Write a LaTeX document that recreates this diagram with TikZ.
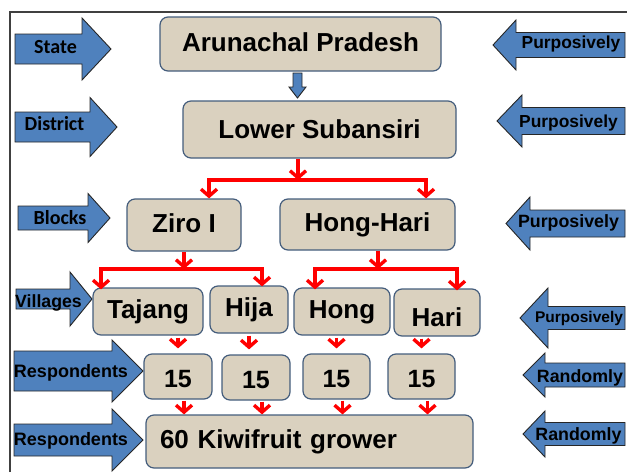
\documentclass[tikz,border=0pt]{standalone}
\usepackage{fontspec}
\setmainfont{Liberation Sans}
\newfontfamily\calibfont{Carlito}
\usepackage{tikz}
\usetikzlibrary{arrows.meta}
\usepackage{xcolor}
\definecolor{boxfill}{HTML}{DAD1BF}
\definecolor{boxline}{HTML}{445D7C}
\definecolor{arrowblue}{HTML}{4F81BD}
\definecolor{framegray}{HTML}{404040}
\newcommand{\blockarrow}[6]{\filldraw[blockarr] (#1,#4-#5) -- (#2,#4-#5) -- (#2,#4-#6) -- (#3,#4) -- (#2,#4+#6) -- (#2,#4+#5) -- (#1,#4+#5) -- cycle;}
\newcommand{\fsz}[1]{\fontsize{#1}{#1}\selectfont\bfseries}
\tikzset{
  stagebox/.style={draw=boxline, fill=boxfill, rounded corners=8pt, line width=1.2pt,
    font=\fsz{26}, text height=18pt, text depth=4pt, inner sep=0pt},
  redarr/.style={draw=red, line width=3.4pt, -{Straight Barb[length=7pt,width=16pt]}},
  redfork/.style={redarr, {Straight Barb[length=7pt,width=16pt]}-{Straight Barb[length=7pt,width=16pt]}},
  shortarr/.style={redarr, shorten <=2pt, shorten >=5pt},
  blockarr/.style={fill=arrowblue, draw=black!85, line width=0.9pt},
  steplabel/.style={font=\fsz{18}, anchor=base, inner sep=0pt},
  caliblabel/.style={steplabel, font=\calibfont\fsz{20}}
}

\begin{document}
\begin{tikzpicture}[x=1pt,y=-1pt]
\useasboundingbox (0,0) rectangle (627,472);
\draw[framegray, line width=1.6pt] (10,472) -- (10,12) -- (627,12);

\blockarrow{15}{82}{111}{49}{15}{31}
\blockarrow{15}{90}{117}{127}{15}{29.5}
\blockarrow{18}{88}{110}{218}{12}{24.5}
\blockarrow{16}{70}{92}{299}{10}{27}
\blockarrow{14}{112}{143}{371}{20}{31}
\blockarrow{14}{112}{143}{440}{16}{31}
\blockarrow{625}{516}{493}{45}{12.5}{25}
\blockarrow{625}{522}{497}{121}{13.5}{26}
\blockarrow{625}{530}{506}{223.5}{13.5}{26.5}
\blockarrow{625}{548}{520}{318}{11.5}{30}
\blockarrow{625}{545}{523}{375}{12}{22}
\blockarrow{625}{545}{523}{434}{11.5}{23}
\filldraw[blockarr] (293,73) -- (302,73) -- (302,87) -- (306,87) -- (297.5,98) -- (289,87) -- (293,87) -- cycle;

\node[caliblabel] (lstate) at (55.5,53) {State};
\node[caliblabel] (ldist) at (54.5,130) {District};
\node[caliblabel] (lblock) at (60,224) {Blocks};
\node[steplabel, font=\fsz{17.7}] (lvill) at (48.5,307) {Villages};
\node[steplabel] (lresp) at (71,377) {Respondents};
\node[steplabel] (lresptot) at (71,445) {Respondents};
\node[steplabel, font=\fsz{17.4}] (pstate) at (571,48) {Purposively};
\node[steplabel, font=\fsz{17.4}] (pdist) at (568.5,127) {Purposively};
\node[steplabel, font=\fsz{17.8}] (pblock) at (568.5,227) {Purposively};
\node[steplabel, font=\fsz{15.5}] (pvill) at (579,322) {Purposively};
\node[steplabel, font=\fsz{17.8}] (rresp) at (580,382) {Randomly};
\node[steplabel, font=\fsz{17.8}] (rresptot) at (578.5,440) {Randomly};

\node[stagebox, minimum width=281pt, minimum height=54pt] (ap) at (300.5,44) {Arunachal Pradesh};
\node[stagebox, minimum width=273pt, minimum height=57pt] (ls) at (319.5,129.5) {\raisebox{-2pt}{Lower Subansiri}};
\node[stagebox, minimum width=114pt, minimum height=52pt] (ziro) at (184,225) {Ziro I};
\node[stagebox, minimum width=175pt, minimum height=51pt] (hh) at (367.5,224.5) {Hong-Hari};
\node[stagebox, minimum width=110pt, minimum height=47pt] (taj) at (148,311.5) {Tajang};
\node[stagebox, minimum width=78pt, minimum height=47pt] (hija) at (249,309.5) {Hija};
\node[stagebox, minimum width=96pt, minimum height=47pt] (hong) at (342,311.5) {Hong};
\node[stagebox, minimum width=86pt, minimum height=47pt] (hari) at (437,312.5) {\raisebox{-7pt}{Hari}};
\node[stagebox, font=\fsz{25}, minimum width=68pt, minimum height=45pt] (n1) at (178,376.5) {\raisebox{-4pt}{15}};
\node[stagebox, font=\fsz{25}, minimum width=68pt, minimum height=45pt] (n2) at (256,377.5) {\raisebox{-4pt}{15}};
\node[stagebox, font=\fsz{25}, minimum width=67pt, minimum height=45pt] (n3) at (336.5,376.5) {\raisebox{-4pt}{15}};
\node[stagebox, font=\fsz{25}, minimum width=67pt, minimum height=45pt] (n4) at (421.5,376.5) {\raisebox{-4pt}{15}};
\node[stagebox, minimum height=53pt, text width=299pt, inner xsep=14pt, align=left] (kiwi) at (309.5,441.5) {60 Kiwifruit grower};

\coordinate (s1) at (298,180);
\coordinate (b1l) at (209,180);
\coordinate (b1r) at (426,180);
\coordinate (s3) at (378,269);
\coordinate (b2l) at (101,269);
\coordinate (b2r) at (262,269);
\coordinate (b3l) at (315,269);
\coordinate (b3r) at (457,269);
\draw[redarr] (ls.south -| s1) -- (s1);
\draw[redfork] (b1l |- ziro.north) -- (b1l) -- (b1r) -- (b1r |- hh.north);
\draw[redarr] (ziro.south) -- (ziro.south |- b2l);
\draw[redfork] ([yshift=-2pt]b2l |- taj.north) -- (b2l) -- (b2r) -- ([yshift=-1pt]b2r |- hija.north);
\draw[redarr] (hh.south -| s3) -- (s3);
\draw[redfork] ([yshift=-2pt]b3l |- hong.north) -- (b3l) -- (b3r) -- ([yshift=-2pt]b3r |- hari.north);
\draw[shortarr] (n1.north |- taj.south) -- (n1.north);
\draw[shortarr] (hija.south) -- (hija.south |- n2.north);
\draw[shortarr] (n3.north |- hong.south) -- (n3.north);
\draw[shortarr] (n4.north |- hari.south) -- (n4.north);
\foreach \n in {n1,n2,n3,n4}
  \draw[redarr, shorten <=1pt] ([xshift=6pt]\n.south) -- ([xshift=6pt]\n.south |- kiwi.north);
\end{tikzpicture}
\end{document}
